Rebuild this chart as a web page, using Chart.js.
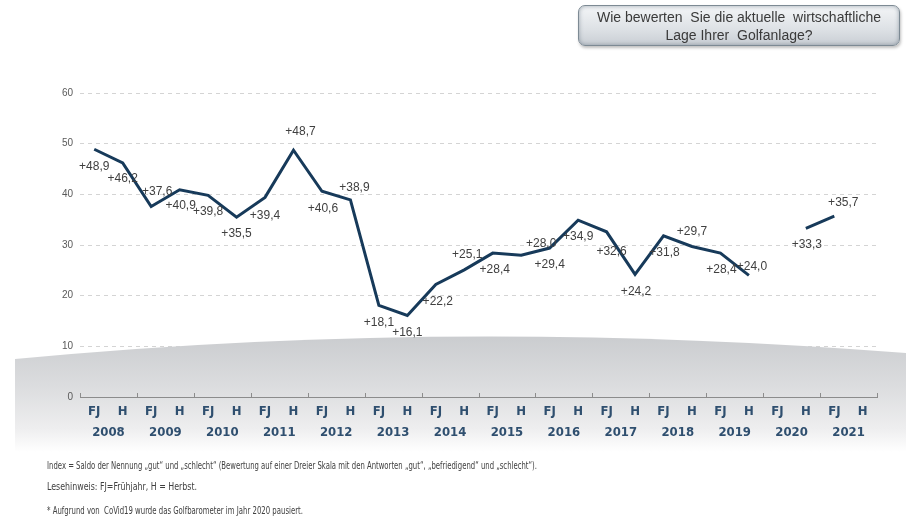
<!DOCTYPE html>
<html><head><meta charset="utf-8">
<script src="https://cdn.jsdelivr.net/npm/chart.js@4"></script>
<style>
html,body{margin:0;padding:0;background:#fff;}
#wrap{position:relative;width:906px;height:519px;overflow:hidden;}
canvas{position:absolute;left:0;top:0;}
#qbox{position:absolute;left:578px;top:5px;width:322px;height:41px;box-sizing:border-box;border:1.5px solid #7d8a94;border-radius:7px;
background:linear-gradient(#f3f5f7,#dde1e5 60%,#c9ced4);box-shadow:inset 0 0 4px rgba(90,105,120,0.55),1px 2px 3px rgba(0,0,0,0.25);
font-family:"Liberation Sans",Arial,sans-serif;font-size:14px;line-height:18px;color:#3a3a3a;text-align:center;padding-top:2px;}
.fn{position:absolute;left:47px;font-family:"Liberation Sans Narrow","DejaVu Sans Condensed","Liberation Sans",sans-serif;font-size:10px;color:#404040;white-space:nowrap;transform-origin:0 50%;}
</style></head><body>
<div id="wrap">
<canvas id="c" width="906" height="519"></canvas>
<div id="qbox">Wie bewerten&nbsp; Sie die aktuelle&nbsp; wirtschaftliche<br>Lage Ihrer&nbsp; Golfanlage?</div>
<div class="fn" id="f1" data-w="490" style="top:460px">Index = Saldo der Nennung „gut“ und „schlecht“ (Bewertung auf einer Dreier Skala mit den Antworten „gut“, „befriedigend“ und „schlecht“).</div>
<div class="fn" id="f2" data-w="150" style="top:481px">Lesehinweis: FJ=Frühjahr, H = Herbst.</div>
<div class="fn" id="f3" data-w="256" style="top:505px">* Aufgrund von&nbsp; CoVid19 wurde das Golfbarometer im Jahr 2020 pausiert.</div>
</div>
<script>
const halfYears = ['FJ','H','FJ','H','FJ','H','FJ','H','FJ','H','FJ','H','FJ','H','FJ','H','FJ','H','FJ','H','FJ','H','FJ','H','FJ','H','FJ','H'];
const years = ['2008','2009','2010','2011','2012','2013','2014','2015','2016','2017','2018','2019','2020','2021'];
const indexValues = [48.9,46.2, 37.6,40.9, 39.8,35.5, 39.4,48.7, 40.6,38.9, 18.1,16.1, 22.2,25.1, 28.4,28.0, 29.4,34.9, 32.6,24.2, 31.8,29.7, 28.4,24.0, null,33.3, 35.7,null];
const yTicks = [0,10,20,30,40,50,60];

// label offsets [dx, dy] relative to each point (layout only)
const labelOffsets = [[0,17],[0,16],[6,-15],[1,16],[0,16],[0,17],[0,18],[7,-19],[1,17],[4,-12],
  [0,17],[0,17],[2,17],[3,-15],[2,17],[20,-11],[0,17],[0,17],[5,20],[1,17],[1,17],[0,-15],[1,17],[3,-9],
  null,[1,16],[9,-13],null];

document.querySelectorAll('.fn').forEach(el=>{
  const w = el.getBoundingClientRect().width;
  el.style.transform = 'scaleX(' + (parseFloat(el.dataset.w)/w) + ')';
});

const bgShape = {
  id:'bgShape',
  beforeDatasetsDraw(chart){
    const ctx = chart.ctx;
    ctx.save();
    const g = ctx.createLinearGradient(0,335,0,452);
    g.addColorStop(0,'#cacccf');
    g.addColorStop(0.45,'#dcdddf');
    g.addColorStop(0.8,'#eeeeef');
    g.addColorStop(1,'#ffffff');
    ctx.fillStyle = g;
    ctx.beginPath();
    ctx.moveTo(15,455);
    ctx.lineTo(15,359);
    ctx.quadraticCurveTo(450,317,906,353);
    ctx.lineTo(906,455);
    ctx.closePath();
    ctx.fill();
    ctx.restore();
  }
};

const pointLabels = {
  id:'pointLabels',
  afterDatasetsDraw(chart){
    const ctx = chart.ctx;
    const meta = chart.getDatasetMeta(0);
    ctx.save();
    ctx.font = '12px "Liberation Sans", Arial, sans-serif';
    ctx.fillStyle = '#404040';
    ctx.textAlign = 'center';
    ctx.textBaseline = 'middle';
    meta.data.forEach((pt,i)=>{
      const v = indexValues[i];
      if (v === null || !labelOffsets[i]) return;
      const t = '+' + v.toFixed(1).replace('.',',');
      ctx.fillText(t, pt.x + labelOffsets[i][0], pt.y + labelOffsets[i][1]);
    });
    ctx.restore();
  }
};

const yearTicks = {
  id:'yearTicks',
  afterDraw(chart){
    const s = chart.scales.x;
    const ctx = chart.ctx;
    ctx.save();
    ctx.strokeStyle = '#8c8c8c';
    ctx.lineWidth = 1;
    const step = s.getPixelForValue(1) - s.getPixelForValue(0);
    for (let k = 0; k <= halfYears.length; k += 2) {
      const x = Math.round(s.getPixelForValue(k) - step/2) + 0.5;
      ctx.beginPath();
      ctx.moveTo(x, s.top);
      ctx.lineTo(x, s.top - 4);
      ctx.stroke();
    }
    ctx.restore();
  }
};

const axisFont = {family:'"Liberation Sans Narrow","DejaVu Sans Condensed","Liberation Sans",sans-serif', size:13, weight:'bold'};

new Chart(document.getElementById('c'), {
  type:'line',
  data:{
    labels: halfYears,
    datasets:[{
      data: indexValues,
      borderColor:'#173a5a',
      borderWidth:3,
      pointRadius:0,
      tension:0,
      spanGaps:false,
      fill:false
    }]
  },
  options:{
    responsive:false,
    animation:false,
    layout:{padding:{left:60,right:29,top:93,bottom:72}},
    plugins:{legend:{display:false},tooltip:{enabled:false}},
    scales:{
      x:{
        type:'category',
        position:'bottom',
        offset:true,
        weight:0,
        grid:{display:false,drawTicks:false},
        border:{display:true,color:'#8c8c8c',width:1,z:1},
        ticks:{z:1,padding:7,color:'#2f4f6f',font:axisFont,autoSkip:false,maxRotation:0},
        afterFit(s){ s.height = 26; }
      },
      x2:{
        type:'category',
        labels: years,
        position:'bottom',
        offset:true,
        weight:1,
        grid:{display:false,drawTicks:false},
        border:{display:false},
        ticks:{z:1,padding:2,color:'#2f4f6f',font:axisFont,autoSkip:false,maxRotation:0},
        afterFit(s){ s.height = 24; }
      },
      y:{
        min:0,max:60,
        afterBuildTicks(s){ s.ticks = yTicks.map(v=>({value:v})); },
        grid:{color:(c)=> c.tick && c.tick.value === 0 ? 'rgba(0,0,0,0)' : '#d4d4d4', lineWidth:1, drawTicks:false, z:-1},
        border:{display:false, dash:[4,4]},
        ticks:{z:1,padding:7,color:'#595959',font:{family:'"Liberation Sans",Arial,sans-serif',size:10}},
        afterFit(s){ s.width = 20; }
      }
    }
  },
  plugins:[bgShape, pointLabels, yearTicks]
});
// dashed grid lines
Chart.defaults.scale.grid.borderDash = [4,4];
</script>
</body></html>
